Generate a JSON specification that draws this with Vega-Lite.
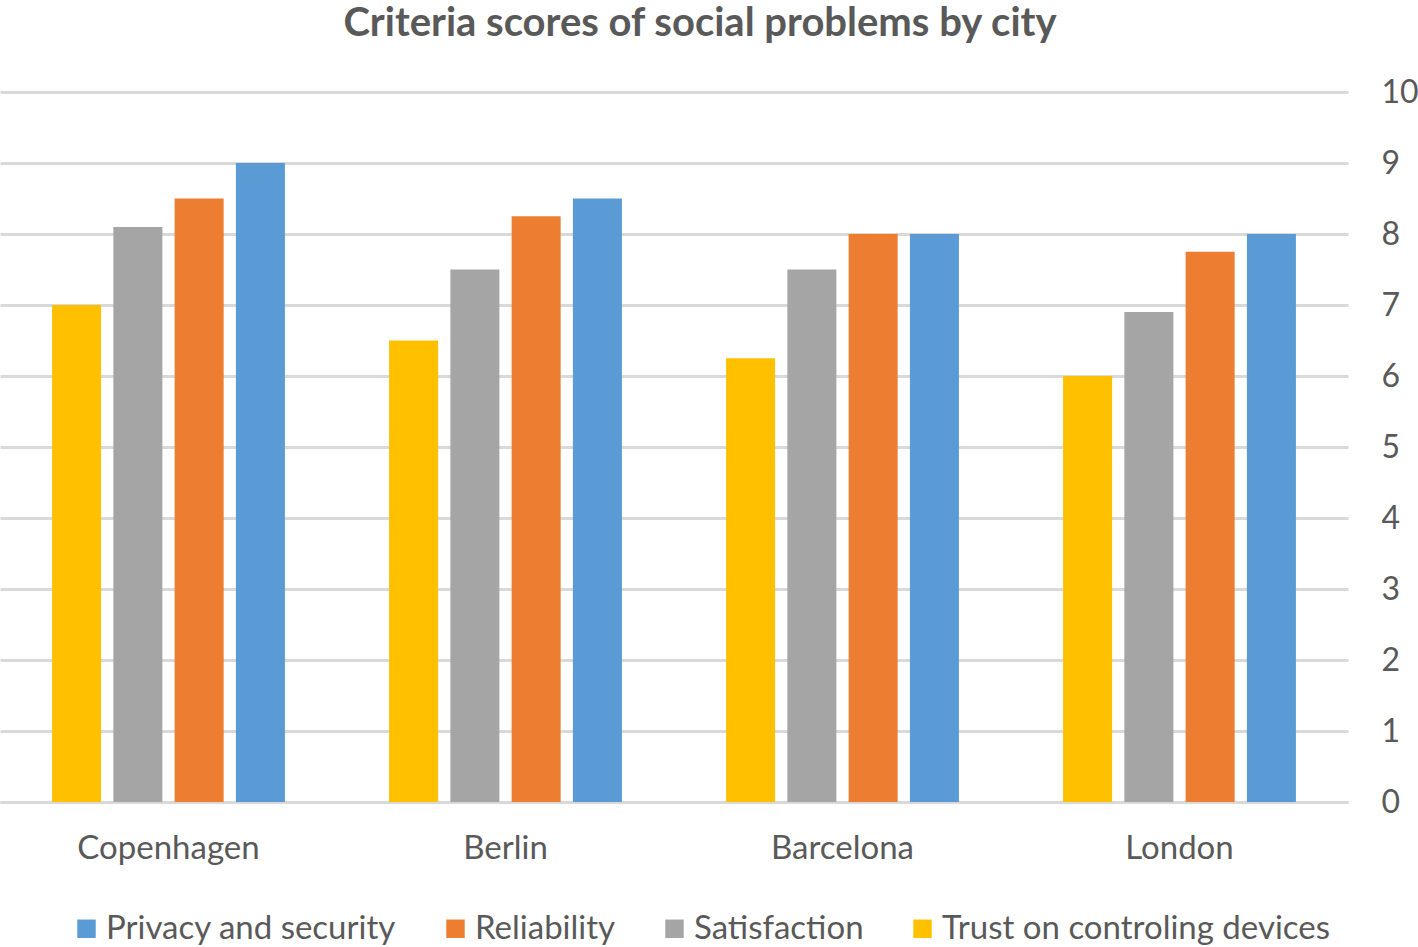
{
  "$schema": "https://vega.github.io/schema/vega-lite/v6.json",
  "autosize": {"type": "none"},
  "width": 1348,
  "height": 710,
  "padding": {"left": 0, "top": 92, "right": 70, "bottom": 145},
  "background": "white",
  "title": {
    "text": "Criteria scores of social problems by city",
    "font": "Lato",
    "fontSize": 40,
    "fontWeight": "bold",
    "color": "#595959",
    "anchor": "middle",
    "dx": 26,
    "offset": 32
  },
  "data": {
    "values": [
      {"city": "Copenhagen", "criterion": "Trust on controling devices", "score": 7.0},
      {"city": "Copenhagen", "criterion": "Satisfaction", "score": 8.1},
      {"city": "Copenhagen", "criterion": "Reliability", "score": 8.5},
      {"city": "Copenhagen", "criterion": "Privacy and security", "score": 9.0},
      {"city": "Berlin", "criterion": "Trust on controling devices", "score": 6.5},
      {"city": "Berlin", "criterion": "Satisfaction", "score": 7.5},
      {"city": "Berlin", "criterion": "Reliability", "score": 8.25},
      {"city": "Berlin", "criterion": "Privacy and security", "score": 8.5},
      {"city": "Barcelona", "criterion": "Trust on controling devices", "score": 6.25},
      {"city": "Barcelona", "criterion": "Satisfaction", "score": 7.5},
      {"city": "Barcelona", "criterion": "Reliability", "score": 8.0},
      {"city": "Barcelona", "criterion": "Privacy and security", "score": 8.0},
      {"city": "London", "criterion": "Trust on controling devices", "score": 6.0},
      {"city": "London", "criterion": "Satisfaction", "score": 6.9},
      {"city": "London", "criterion": "Reliability", "score": 7.75},
      {"city": "London", "criterion": "Privacy and security", "score": 8.0}
    ]
  },
  "mark": {"type": "bar"},
  "encoding": {
    "x": {
      "field": "city",
      "type": "nominal",
      "sort": ["Copenhagen", "Berlin", "Barcelona", "London"],
      "scale": {"paddingInner": 0, "paddingOuter": 0},
      "axis": {
        "title": null,
        "labelAngle": 0,
        "labelFont": "Lato",
        "labelFontSize": 33,
        "labelLimit": 0,
        "labelColor": "#595959",
        "labelPadding": 30,
        "ticks": false,
        "domainColor": "#d9d9d9",
        "domainWidth": 3
      }
    },
    "xOffset": {
      "field": "criterion",
      "type": "nominal",
      "scale": {
        "domain": ["Trust on controling devices", "Satisfaction", "Reliability", "Privacy and security"],
        "paddingInner": 0.2,
        "paddingOuter": 0.85
      }
    },
    "y": {
      "field": "score",
      "type": "quantitative",
      "scale": {"domain": [0, 10]},
      "axis": {
        "orient": "right",
        "title": null,
        "values": [0, 1, 2, 3, 4, 5, 6, 7, 8, 9, 10],
        "labelFont": "Lato",
        "labelFontSize": 32,
        "labelColor": "#595959",
        "labelPadding": 33,
        "ticks": false,
        "domain": false,
        "grid": true,
        "gridColor": "#d9d9d9",
        "gridWidth": 3
      }
    },
    "color": {
      "field": "criterion",
      "type": "nominal",
      "scale": {
        "domain": ["Privacy and security", "Reliability", "Satisfaction", "Trust on controling devices"],
        "range": ["#5B9BD5", "#ED7D31", "#A5A5A5", "#FFC000"]
      },
      "legend": {
        "title": null,
        "orient": "none",
        "direction": "horizontal",
        "legendX": 70,
        "legendY": 820,
        "symbolType": "square",
        "symbolSize": 340,
        "symbolStrokeWidth": 0,
        "labelFont": "Lato",
        "labelFontSize": 33,
        "labelColor": "#595959",
        "labelLimit": 0,
        "labelOffset": 3,
        "columnPadding": 42
      }
    }
  },
  "config": {
    "view": {"stroke": null}
  }
}
